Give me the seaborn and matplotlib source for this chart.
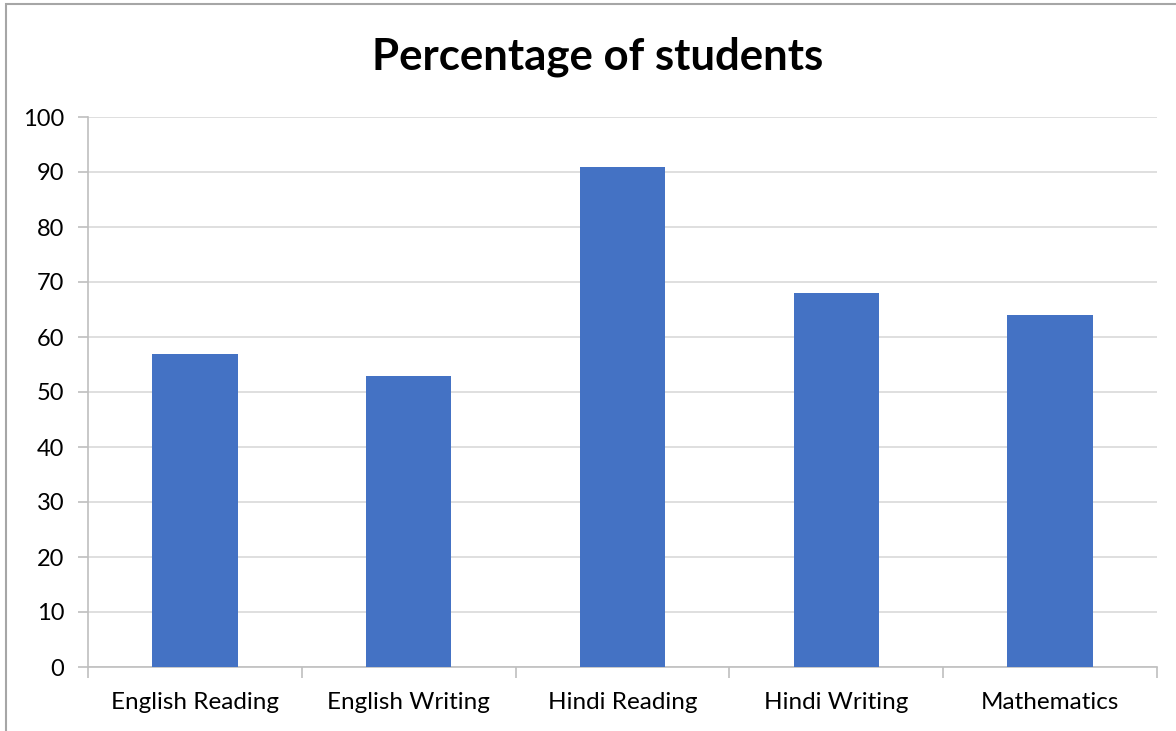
import matplotlib
matplotlib.use("Agg")
import matplotlib.pyplot as plt
import seaborn as sns
import pandas as pd
from matplotlib.patches import Rectangle
from matplotlib.ticker import FixedLocator

categories = ["English Reading", "English Writing", "Hindi Reading", "Hindi Writing", "Mathematics"]
values = [57, 53, 91, 68, 64]
yticks = [0, 10, 20, 30, 40, 50, 60, 70, 80, 90, 100]
title = "Percentage of students"

sns.set_theme(style="white")
plt.rcParams['font.family'] = ['Lato', 'DejaVu Sans']

df = pd.DataFrame({"subject": categories, "pct": values})

fig = plt.figure(figsize=(11.76, 7.31), dpi=100)
ax = fig.add_axes([88/1176, 1-667/731, (1157-88)/1176, (667-117)/731])

# outer chart border (left and top visible)
fig.patches.append(Rectangle((6/1176, -0.1), 1.2, 1 - 4/731 + 0.1, transform=fig.transFigure,
                             fill=False, edgecolor="#a6a6a6", linewidth=1.5, zorder=0))

sns.barplot(data=df, x="subject", y="pct", color="#4472C4", width=0.4, ax=ax,
            saturation=1, zorder=3, linewidth=0)

ax.set_xlim(-0.5, 4.5)
ax.set_ylim(0, 100)
ax.set_yticks(yticks)
ax.yaxis.grid(True, color="#d9d9d9", linewidth=1.2, zorder=0)
ax.set_axisbelow(True)
ax.set_xlabel("")
ax.set_ylabel("")

for s in ["top", "right"]:
    ax.spines[s].set_visible(False)
ax.spines["left"].set_color("#bfbfbf")
ax.spines["bottom"].set_color("#bfbfbf")
ax.spines["left"].set_linewidth(1.2)
ax.spines["bottom"].set_linewidth(1.2)

ax.tick_params(axis="y", which="major", left=True, length=7, width=1.2, color="#bfbfbf",
               labelsize=17, labelcolor="black", pad=10)
ax.tick_params(axis="x", which="major", bottom=False, labelsize=17.5, labelcolor="black", pad=12)
ax.xaxis.set_minor_locator(FixedLocator([-0.5, 0.5, 1.5, 2.5, 3.5, 4.5]))
ax.tick_params(axis="x", which="minor", bottom=True, length=8, width=1.2, color="#bfbfbf")

fig.text((370+825)/2/1176, 1-57/731, title, ha="center", va="center",
         fontsize=31.5, fontweight="bold", color="black")

fig.savefig("out.png", dpi=100, facecolor="white")
